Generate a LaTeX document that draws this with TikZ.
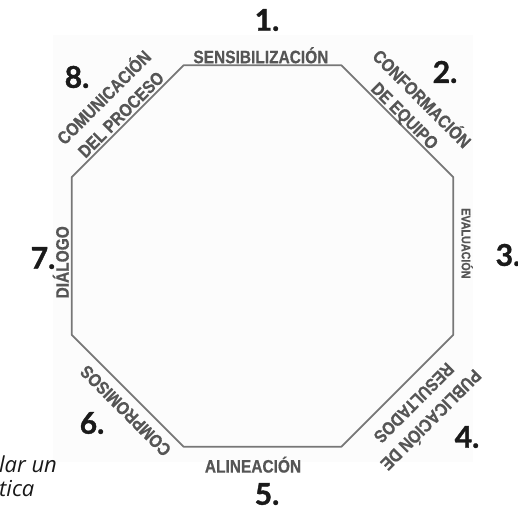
\documentclass[tikz,border=0pt]{standalone}
\usepackage{fontspec}
\usepackage{tikz}
\usetikzlibrary{calc}
\newfontfamily\lblfont[FakeStretch=0.86,FakeBold=0.6]{Liberation Sans}
\newfontfamily\numfont[FakeBold=1.2]{Lato}
\newfontfamily\notefont{Open Sans}
\definecolor{edgegray}{HTML}{777777}
\definecolor{textgray}{HTML}{555555}
\definecolor{numblack}{HTML}{1A1A1A}
\definecolor{paper}{HTML}{FCFCFC}
\tikzset{octo/.style={draw=edgegray,line width=1.7pt,line join=round},
  side/.style={font=\lblfont\bfseries\fontsize{18}{22}\selectfont,text=textgray,
  inner sep=0pt,align=center},
  num/.style={font=\numfont\bfseries\fontsize{30}{32}\selectfont,text=numblack,inner sep=0pt},
  note/.style={font=\notefont\itshape\fontsize{22}{26}\selectfont,text=black!90,
  inner sep=0pt,anchor=base west}}

\begin{document}
\begin{tikzpicture}[x=1pt,y=1pt]
 \useasboundingbox (0,0) rectangle (518,505);
 \fill[paper] (53,43) rectangle (473,470);
 \coordinate (o) at (262.5,249);
 \foreach \i/\a in {1/67.5,2/22.5,3/-22.5,4/-67.5,5/-112.5,6/-157.5,7/157.5,8/112.5}
  \coordinate (v\i) at ($(o)+(\a:206.4)$);
 \draw[octo] (v1)--(v2)--(v3)--(v4)--(v5)--(v6)--(v7)--(v8)--cycle;
 % labels along the sides
 \node[side] (s1) at ($(v8)!0.49!(v1)+(90:10)$) {SENSIBILIZACIÓN};
 \node[side,rotate=-45] (s2) at ($(v1)!0.51!(v2)+(45:21)$) {CONFORMACIÓN\\[2pt]DE EQUIPO};
 \node[side,rotate=-90,font=\lblfont\bfseries\fontsize{12.5}{14}\selectfont] (s3)
  at ($(v2)!0.42!(v3)+(0:14)$) {EVALUACIÓN};
 \node[side,rotate=225] (s4) at ($(v3)!0.48!(v4)+(-45:34)$) {PUBLICACIÓN DE\\[2pt]RESULTADOS};
 \node[side] (s5) at ($(v4)!0.56!(v5)+(-90:18)$) {ALINEACIÓN};
 \node[side,rotate=135] (s6) at ($(v5)!0.42!(v6)+(-135:15.6)$) {COMPROMISOS};
 \node[side,rotate=90] (s7) at ($(v6)!0.46!(v7)+(180:11)$) {DIÁLOGO};
 \node[side,rotate=45] (s8) at ($(v7)!0.5!(v8)+(135:23)$) {COMUNICACIÓN\\[2pt]DEL PROCESO};
 % step numbers
 \node[num] (n1) at (267,485) {1.};
 \node[num] (n2) at (445,433) {2.};
 \node[num] (n3) at (508,250) {3.};
 \node[num] (n4) at (467,68) {4.};
 \node[num] (n5) at (267,11) {5.};
 \node[num] (n6) at (92,82) {6.};
 \node[num] (n7) at (43,247) {7.};
 \node[num] (n8) at (77,428) {8.};
 % cut-off text at the edge
 \node[note] (t1) at (-1,33) {lar un};
 \node[note] (t2) at (-1,9) {tica};
\end{tikzpicture}
\end{document}
